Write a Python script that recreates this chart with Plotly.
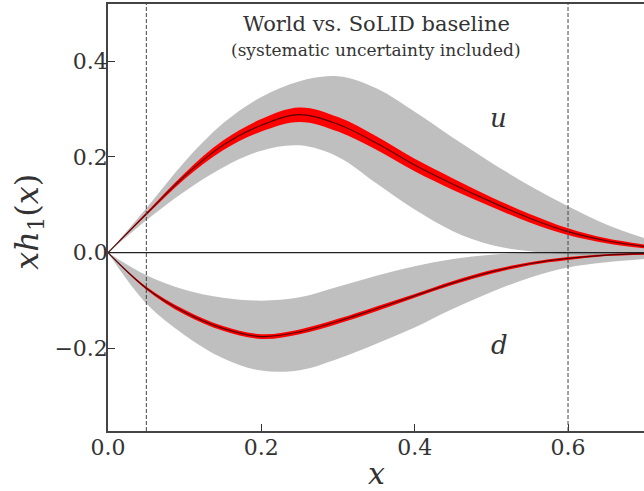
import plotly.graph_objects as go

# momentum fraction grid
x = [0, 0.05, 0.1, 0.15, 0.2, 0.25, 0.3, 0.35, 0.4, 0.45, 0.5, 0.55, 0.6, 0.65, 0.7]

# u quark transversity: central value, SoLID (red) band, world (gray) band
u_mid = [0, 0.081, 0.160, 0.224, 0.266, 0.288, 0.268, 0.229, 0.183, 0.143, 0.106, 0.072, 0.044, 0.025, 0.013]
u_red_hi = [0, 0.084, 0.166, 0.234, 0.279, 0.303, 0.283, 0.243, 0.196, 0.155, 0.116, 0.081, 0.051, 0.030, 0.017]
u_red_lo = [0, 0.078, 0.154, 0.214, 0.253, 0.273, 0.253, 0.215, 0.170, 0.131, 0.096, 0.063, 0.037, 0.020, 0.009]
u_gray_hi = [0, 0.093, 0.190, 0.270, 0.325, 0.358, 0.368, 0.343, 0.294, 0.240, 0.188, 0.140, 0.097, 0.059, 0.030]
u_gray_lo = [0, 0.068, 0.128, 0.178, 0.213, 0.224, 0.200, 0.145, 0.090, 0.045, 0.016, 0.003, -0.003, -0.004, -0.002]

# d quark transversity
d_mid = [0, -0.074, -0.124, -0.158, -0.175, -0.165, -0.143, -0.117, -0.090, -0.063, -0.040, -0.023, -0.012, -0.005, -0.002]
d_red_hi = [0, -0.071, -0.119, -0.153, -0.170, -0.160, -0.138, -0.112, -0.086, -0.059, -0.036, -0.020, -0.009, -0.003, 0.000]
d_red_lo = [0, -0.077, -0.129, -0.163, -0.180, -0.170, -0.148, -0.122, -0.094, -0.067, -0.044, -0.026, -0.015, -0.007, -0.004]
d_gray_hi = [0, -0.047, -0.077, -0.094, -0.100, -0.093, -0.071, -0.048, -0.028, -0.013, -0.004, 0.000, 0.002, 0.001, 0.000]
d_gray_lo = [0, -0.106, -0.172, -0.220, -0.246, -0.245, -0.221, -0.190, -0.156, -0.117, -0.082, -0.052, -0.031, -0.020, -0.013]

x_cuts = [0.05, 0.6]
xticks = [0, 0.2, 0.4, 0.6]
yticks = [-0.2, 0, 0.2, 0.4]

SERIF = "DejaVu Serif"
GRAY = "rgba(128,128,128,0.5)"
RED = "#ff0000"
DARK = "rgba(70,0,0,0.9)"
SPLINE = dict(shape="spline", smoothing=1.0)


def band(hi, lo, color):
    # lower edge first, then the upper edge filled down to it
    lower = go.Scatter(x=x, y=lo, mode="lines", line=dict(width=0, **SPLINE),
                       hoverinfo="skip", showlegend=False)
    upper = go.Scatter(x=x, y=hi, mode="lines", fill="tonexty", fillcolor=color,
                       line=dict(width=0, **SPLINE), hoverinfo="skip", showlegend=False)
    return [lower, upper]


def centre(vals):
    return go.Scatter(x=x, y=vals, mode="lines",
                      line=dict(color=DARK, width=1.2, **SPLINE), showlegend=False)


fig = go.Figure()
for tr in (band(u_gray_hi, u_gray_lo, GRAY) + band(d_gray_hi, d_gray_lo, GRAY)
           + band(u_red_hi, u_red_lo, RED) + band(d_red_hi, d_red_lo, RED)):
    fig.add_trace(tr)
fig.add_trace(centre(u_mid))
fig.add_trace(centre(d_mid))

# horizontal zero line
fig.add_shape(type="line", xref="x domain", yref="y", x0=0, x1=1, y0=0, y1=0,
              line=dict(color="#222", width=1.3), layer="above")
# kinematic coverage limits
for xc in x_cuts:
    fig.add_shape(type="line", xref="x", yref="y domain", x0=xc, x1=xc, y0=0, y1=1,
                  line=dict(color="#444", width=1, dash="4px,2px"), layer="above")

axis_common = dict(
    showgrid=False, zeroline=False, showline=True, linecolor="#444", linewidth=1.5,
    ticks="inside", ticklen=7, tickwidth=1.2, tickcolor="#333",
    tickformat=".1f", tickfont=dict(family=SERIF, size=22, color="#333"),
)

fig.update_layout(
    width=644, height=491,
    margin=dict(l=108, r=0, t=4, b=60),
    plot_bgcolor="white", paper_bgcolor="white",
    showlegend=False,
    font=dict(family=SERIF, color="#333"),
    xaxis=dict(range=[0, 0.6991], tickvals=xticks, mirror=True, ticklabelstandoff=-4,
               **axis_common),
    yaxis=dict(range=[-0.372, 0.519], tickvals=yticks, mirror=False, ticklabelstandoff=-6,
               **axis_common),
)

annotations = [
    dict(text="World vs. SoLID baseline", x=0.35, y=0.478, xref="x", yref="y", size=21),
    dict(text="(systematic uncertainty included)", x=0.35, y=0.423, xref="x", yref="y", size=17),
    dict(text="<i>u</i>", x=0.509, y=0.281, xref="x", yref="y", size=26),
    dict(text="<i>d</i>", x=0.510, y=-0.192, xref="x", yref="y", size=26),
    dict(text="<i>x</i>", x=0.35, y=-0.0994, xref="x", yref="paper", size=30),
    dict(text="<i>xh</i><sub>1</sub>(<i>x</i>)", x=-0.149, y=0.065, xref="paper", yref="y",
         textangle=-90, size=32),
]
for a in annotations:
    size = a.pop("size")
    fig.add_annotation(showarrow=False, xanchor="center", yanchor="middle",
                       font=dict(family=SERIF, color="#333", size=size), **a)

fig.write_html("out.html")
